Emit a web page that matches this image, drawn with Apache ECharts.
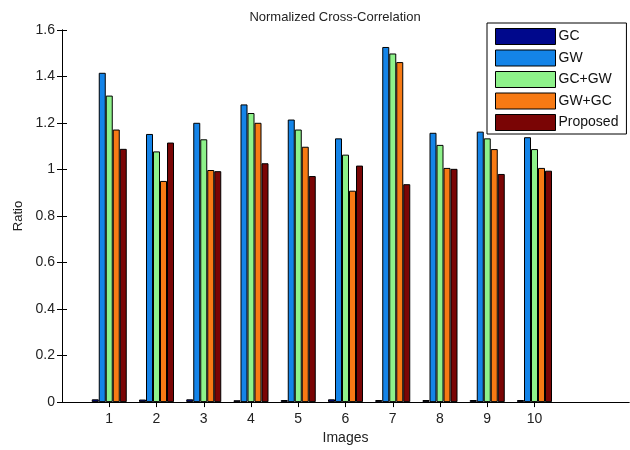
<!DOCTYPE html>
<html>
<head>
<meta charset="utf-8">
<script src="https://cdn.jsdelivr.net/npm/echarts@6/dist/echarts.min.js"></script>
<style>
html,body{margin:0;padding:0;background:#fff;}
#chart{width:630px;height:450px;}
</style>
</head>
<body>
<div id="chart"></div>
<script>
var images = [1, 2, 3, 4, 5, 6, 7, 8, 9, 10];
var seriesNames = ['GC', 'GW', 'GC+GW', 'GW+GC', 'Proposed'];
var gc       = [0.012, 0.011, 0.012, 0.008, 0.009, 0.012, 0.009, 0.009, 0.009, 0.009];
var gw       = [1.416, 1.153, 1.201, 1.280, 1.215, 1.134, 1.527, 1.158, 1.163, 1.139];
var gcgw     = [1.318, 1.078, 1.130, 1.243, 1.172, 1.064, 1.499, 1.106, 1.134, 1.088];
var gwgc     = [1.172, 0.951, 0.998, 1.201, 1.098, 0.909, 1.462, 1.007, 1.088, 1.007];
var proposed = [1.089, 1.116, 0.993, 1.027, 0.972, 1.017, 0.937, 1.003, 0.981, 0.995];
var yTicks = [0, 0.2, 0.4, 0.6, 0.8, 1, 1.2, 1.4, 1.6];
var colors = ['#00088c', '#1484e8', '#8ef28a', '#f77a14', '#7a0505'];

var values = [gc, gw, gcgw, gwgc, proposed];
var font = 'Liberation Sans, Arial, sans-serif';

var series = seriesNames.map(function (name, i) {
  return {
    name: name,
    type: 'bar',
    xAxisIndex: 0,
    yAxisIndex: 0,
    barWidth: 7,
    barGap: '0%',
    itemStyle: { color: colors[i], borderColor: '#000', borderWidth: 1 },
    data: images.map(function (x, j) { return [x, values[i][j]]; })
  };
});

var chart = echarts.init(document.getElementById('chart'), null, { renderer: 'canvas' });
chart.setOption({
  animation: false,
  backgroundColor: '#fff',
  textStyle: { fontFamily: font },
  title: {
    text: 'Normalized Cross-Correlation',
    left: 330, top: 6, textAlign: 'center',
    textStyle: { fontFamily: font, fontSize: 13, fontWeight: 'normal', color: '#222' }
  },
  grid: { left: 62, right: 1, top: 30, bottom: 42, containLabel: false },
  legend: {
    data: seriesNames,
    orient: 'vertical',
    left: 487, top: 23,
    itemWidth: 60, itemHeight: 16, itemGap: 4.5,
    padding: [5, 8, 3, 8],
    backgroundColor: '#fff',
    borderColor: '#000', borderWidth: 1, borderRadius: 0,
    icon: 'rect',
    itemStyle: { borderColor: '#000', borderWidth: 1 },
    textStyle: { fontFamily: font, fontSize: 14, color: '#111', padding: [0, 0, 0, -2] }
  },
  xAxis: [{
    type: 'value', min: 0, max: 12, interval: 1, position: 'bottom',
    name: 'Images', nameLocation: 'middle', nameGap: 26,
    nameTextStyle: { fontFamily: font, fontSize: 14, color: '#222' },
    axisLine: { lineStyle: { color: '#000', width: 1 } },
    axisTick: { inside: true, length: 5, lineStyle: { color: '#000' }, customValues: images },
    axisLabel: { fontFamily: font, fontSize: 14, color: '#222', margin: 10, customValues: images },
    splitLine: { show: false }
  }, {
    type: 'value', min: 0, max: 12, interval: 1, position: 'top',
    axisLine: { lineStyle: { color: '#000', width: 1 } },
    axisTick: { inside: true, length: 5, lineStyle: { color: '#000' }, customValues: images },
    axisLabel: { show: false },
    splitLine: { show: false }
  }],
  yAxis: [{
    type: 'value', min: 0, max: 1.6, interval: 0.2, position: 'left',
    name: 'Ratio', nameLocation: 'middle', nameGap: 37, nameRotate: 90,
    nameTextStyle: { fontFamily: font, fontSize: 13, color: '#222' },
    axisLine: { show: true, lineStyle: { color: '#000', width: 1 } },
    axisTick: { show: true, inside: true, length: 5, lineStyle: { color: '#000' } },
    axisLabel: { fontFamily: font, fontSize: 14, color: '#222', margin: 7,
      formatter: function (v) { return String(+v.toFixed(1)); } },
    splitLine: { show: false }
  }, {
    type: 'value', min: 0, max: 1.6, interval: 0.2, position: 'right',
    axisLine: { show: true, lineStyle: { color: '#000', width: 1 } },
    axisTick: { show: true, inside: true, length: 5, lineStyle: { color: '#000' } },
    axisLabel: { show: false },
    splitLine: { show: false }
  }],
  series: series
});
</script>
</body>
</html>
